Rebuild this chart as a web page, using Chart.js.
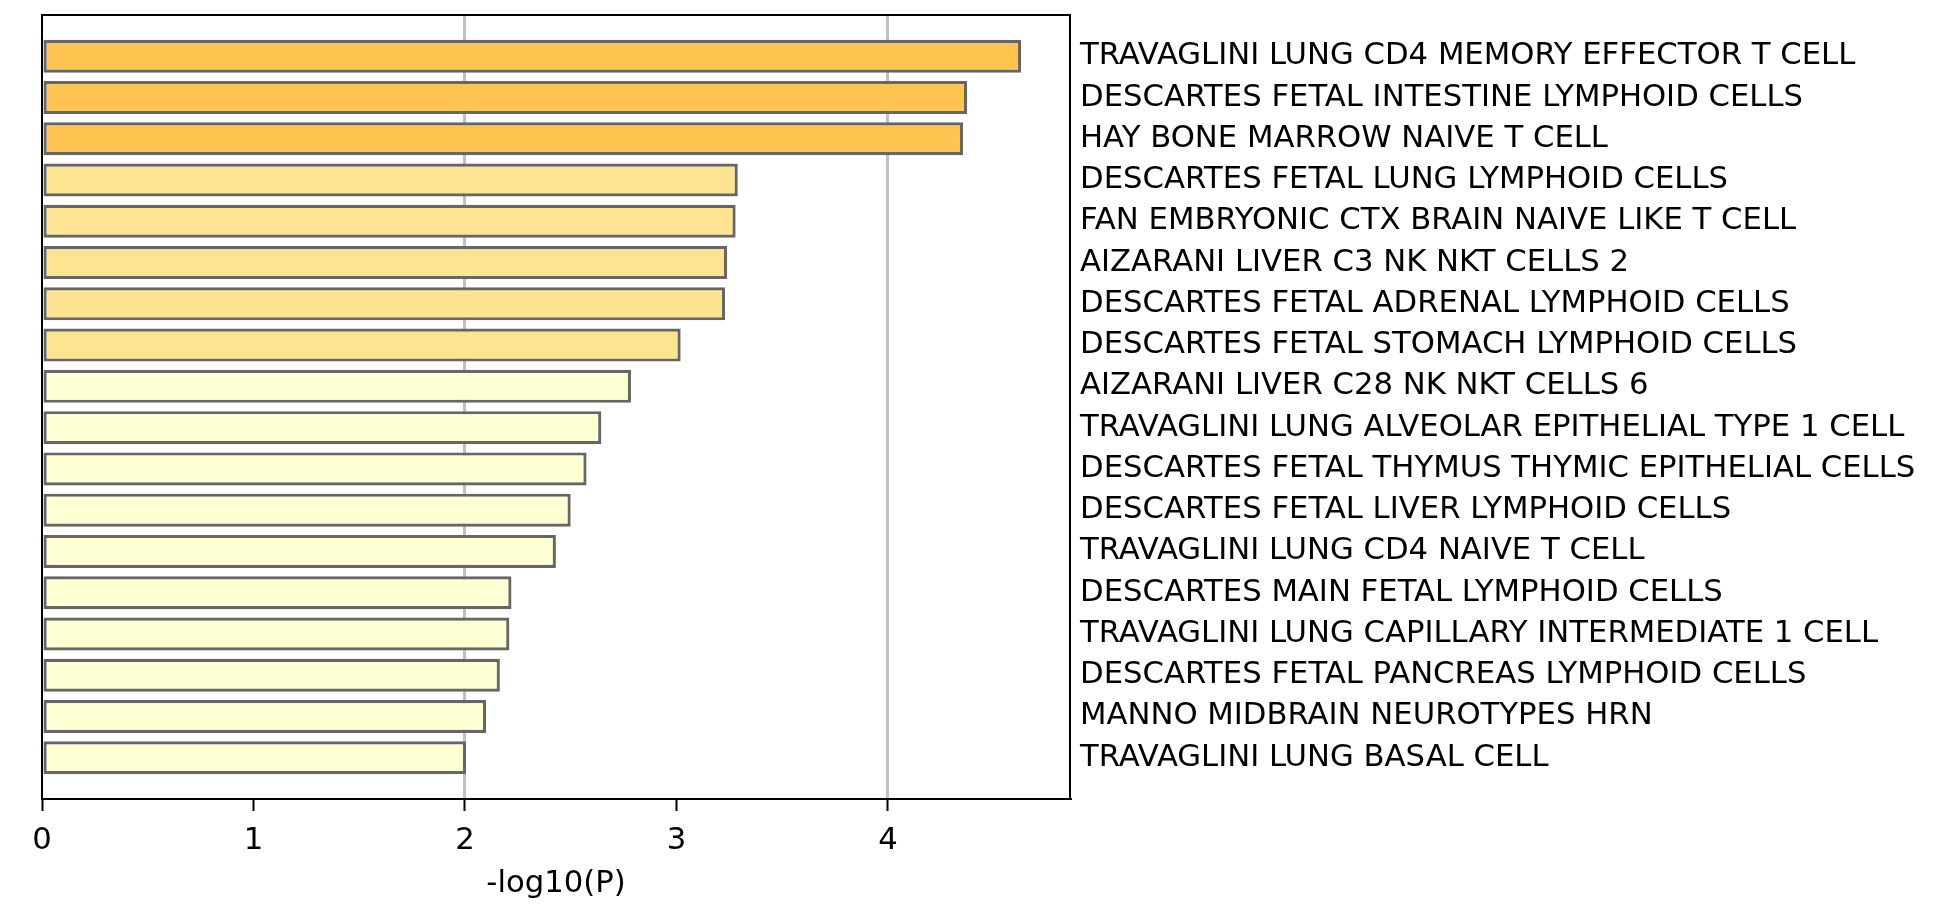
<!DOCTYPE html>
<html>
<head>
<meta charset="utf-8">
<script src="https://cdn.jsdelivr.net/npm/chart.js@4/dist/chart.umd.min.js"></script>
<style>
  html, body { margin: 0; padding: 0; background: #fff; }
  #wrap { width: 1956px; height: 904px; }
</style>
</head>
<body>
<div id="wrap"><canvas id="my-chart"></canvas></div>
<script>
const terms = [
  'TRAVAGLINI LUNG CD4 MEMORY EFFECTOR T CELL',
  'DESCARTES FETAL INTESTINE LYMPHOID CELLS',
  'HAY BONE MARROW NAIVE T CELL',
  'DESCARTES FETAL LUNG LYMPHOID CELLS',
  'FAN EMBRYONIC CTX BRAIN NAIVE LIKE T CELL',
  'AIZARANI LIVER C3 NK NKT CELLS 2',
  'DESCARTES FETAL ADRENAL LYMPHOID CELLS',
  'DESCARTES FETAL STOMACH LYMPHOID CELLS',
  'AIZARANI LIVER C28 NK NKT CELLS 6',
  'TRAVAGLINI LUNG ALVEOLAR EPITHELIAL TYPE 1 CELL',
  'DESCARTES FETAL THYMUS THYMIC EPITHELIAL CELLS',
  'DESCARTES FETAL LIVER LYMPHOID CELLS',
  'TRAVAGLINI LUNG CD4 NAIVE T CELL',
  'DESCARTES MAIN FETAL LYMPHOID CELLS',
  'TRAVAGLINI LUNG CAPILLARY INTERMEDIATE 1 CELL',
  'DESCARTES FETAL PANCREAS LYMPHOID CELLS',
  'MANNO MIDBRAIN NEUROTYPES HRN',
  'TRAVAGLINI LUNG BASAL CELL'
];
const logP = [4.63, 4.375, 4.355, 3.29, 3.28, 3.24, 3.23, 3.02, 2.785, 2.645,
              2.575, 2.50, 2.43, 2.22, 2.21, 2.165, 2.10, 2.005];
const xTicks = [0, 1, 2, 3, 4];
const xTitle = '-log10(P)';

const font = { family: 'DejaVu Sans', size: 30.7 };

function barColor(v) {
  if (v >= 4) return '#fec44f';
  if (v >= 3) return '#fee391';
  return '#ffffd4';
}

// black box round the plot area
const frame = {
  id: 'frame',
  afterDraw(chart) {
    const a = chart.chartArea, c = chart.ctx;
    c.save();
    c.strokeStyle = '#000';
    c.lineWidth = 2;
    c.strokeRect(a.left, a.top, a.right - a.left, a.bottom - a.top);
    c.restore();
  }
};

function noPad(s) {
  s.paddingTop = 0; s.paddingBottom = 0; s.paddingLeft = 0; s.paddingRight = 0;
}

const ctx = document.getElementById('my-chart').getContext('2d');
new Chart(ctx, {
  type: 'bar',
  data: {
    datasets: [{
      data: logP.map((v, i) => ({ x: v, y: i })),
      backgroundColor: c => barColor(logP[c.dataIndex]),
      borderColor: '#666666',
      borderWidth: 3.2,
      borderSkipped: false,
      categoryPercentage: 1,
      barPercentage: 0.8
    }]
  },
  options: {
    indexAxis: 'y',
    responsive: true,
    maintainAspectRatio: false,
    animation: false,
    layout: { padding: { left: 42, top: 15, right: 0, bottom: 0 } },
    plugins: { legend: { display: false }, tooltip: { enabled: false } },
    scales: {
      x: {
        type: 'linear',
        min: 0,
        max: 4.861,
        afterBuildTicks: s => { s.ticks = xTicks.map(v => ({ value: v })); },
        ticks: { color: '#000', font: font, padding: 12, includeBounds: false },
        grid: {
          color: c => (c.tick && c.tick.value > 0 && c.tick.value % 2 === 0) ? '#c0c0c0' : 'rgba(0,0,0,0)',
          lineWidth: 3,
          drawTicks: true,
          tickLength: 12,
          tickColor: '#000',
          tickWidth: 2
        },
        border: { display: true, color: '#000', width: 2 },
        title: { display: true, text: xTitle, color: '#000', font: font, padding: { top: 4, bottom: 2 } },
        afterFit: s => { s.height = 105; noPad(s); }
      },
      y: {
        type: 'linear',
        position: 'right',
        reverse: true,
        offset: false,
        min: -1,
        max: 18,
        afterBuildTicks: s => { s.ticks = terms.map((t, i) => ({ value: i })); },
        ticks: {
          color: '#000',
          font: font,
          padding: 10,
          callback: v => terms[v] || ''
        },
        grid: { display: false, drawTicks: false },
        border: { display: true, color: '#000', width: 2 },
        afterFit: s => { s.width = 886; noPad(s); }
      }
    }
  },
  plugins: [frame]
});
</script>
</body>
</html>
